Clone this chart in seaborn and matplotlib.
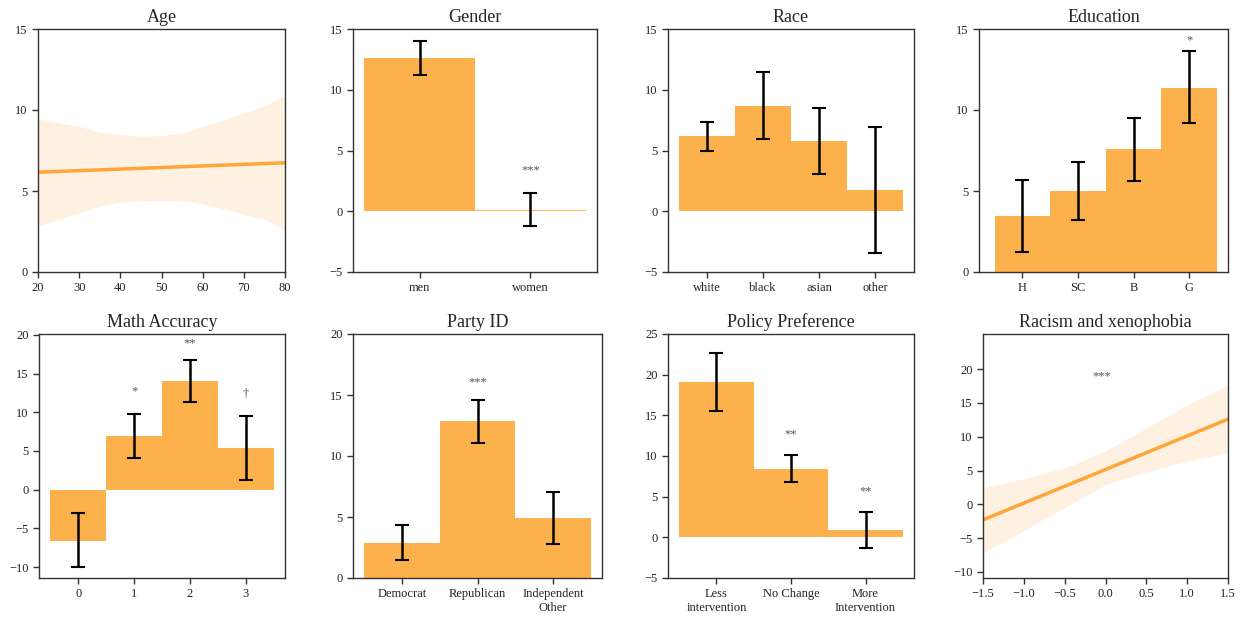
import matplotlib
matplotlib.use('Agg')
import matplotlib.pyplot as plt
import seaborn as sns
import numpy as np

# ---- data ----
age_line_x = [20, 80]
age_line_y = [6.16, 6.74]
age_band_x = [20, 25, 30, 35, 40, 45, 50, 55, 60, 65, 70, 75, 80]
age_band_lo = [2.84, 3.25, 3.66, 4.07, 4.31, 4.40, 4.42, 4.40, 4.19, 3.90, 3.55, 3.25, 2.59]
age_band_hi = [9.47, 9.20, 9.00, 8.63, 8.49, 8.38, 8.42, 8.59, 9.00, 9.37, 9.82, 10.27, 10.90]

gender_cats = ['men', 'women']
gender_vals = [12.65, 0.1]
gender_lo = [11.25, -1.25]
gender_hi = [14.0, 1.5]
gender_sig = ['', '***']

race_cats = ['white', 'black', 'asian', 'other']
race_vals = [6.16, 8.68, 5.81, 1.75]
race_lo = [5.0, 5.95, 3.1, -3.42]
race_hi = [7.34, 11.5, 8.47, 6.9]
race_sig = ['', '', '', '']

edu_cats = ['H', 'SC', 'B', 'G']
edu_vals = [3.45, 4.99, 7.58, 11.38]
edu_lo = [1.25, 3.23, 5.63, 9.18]
edu_hi = [5.65, 6.78, 9.51, 13.62]
edu_sig = ['', '', '', '*']

math_cats = ['0', '1', '2', '3']
math_vals = [-6.57, 6.87, 13.99, 5.41]
math_lo = [-10.0, 4.03, 11.29, 1.29]
math_hi = [-3.05, 9.79, 16.7, 9.53]
math_sig = ['', '*', '**', '†']

party_cats = ['Democrat', 'Republican', 'Independent\nOther']
party_vals = [2.9, 12.86, 4.95]
party_lo = [1.45, 11.08, 2.76]
party_hi = [4.35, 14.61, 7.09]
party_sig = ['', '***', '']

policy_cats = ['Less\nintervention', 'No Change', 'More\nIntervention']
policy_vals = [19.14, 8.38, 0.86]
policy_lo = [15.48, 6.78, -1.27]
policy_hi = [22.71, 10.1, 3.12]
policy_sig = ['', '**', '**']

racism_line_x = [-1.5, 1.5]
racism_line_y = [-2.3, 12.6]
racism_band_x = [-1.5, -1.0, -0.5, -0.25, 0.0, 0.25, 0.5, 0.75, 1.0, 1.25, 1.5]
racism_band_lo = [-7.2, -3.9, -0.5, 1.2, 2.9, 3.9, 4.75, 5.6, 6.4, 7.0, 7.6]
racism_band_hi = [2.45, 3.8, 5.4, 6.6, 7.9, 9.6, 11.3, 13.0, 14.7, 16.2, 17.6]

BAR_COLOR = '#fdb14d'
LINE_COLOR = '#ffa53a'
SIG_COLOR = '#555555'

sns.set_style('ticks')
plt.rcParams['font.family'] = ['Liberation Serif', 'DejaVu Serif']
plt.rcParams['axes.edgecolor'] = '#333333'
plt.rcParams['axes.linewidth'] = 1.0
plt.rcParams['xtick.color'] = '#333333'
plt.rcParams['ytick.color'] = '#333333'
plt.rcParams['xtick.labelcolor'] = '#222222'
plt.rcParams['ytick.labelcolor'] = '#222222'

W, H = 1244, 618
fig = plt.figure(figsize=(W / 100, H / 100), dpi=100)


def add_ax(x0, x1, y0, y1):
    return fig.add_axes([x0 / W, 1 - y1 / H, (x1 - x0) / W, (y1 - y0) / H])


def style(ax, title):
    ax.set_title(title, fontsize=13, pad=5)
    ax.tick_params(labelsize=9, length=4, width=1)
    for s in ax.spines.values():
        s.set_visible(True)
    ax.set_xlabel('')
    ax.set_ylabel('')


def bar_panel(ax, title, cats, vals, lo, hi, sig, ylim, yticks, sig_y, xlim=None):
    sns.barplot(x=cats, y=vals, color=BAR_COLOR, saturation=1, width=1,
                errorbar=None, linewidth=0, ax=ax)
    pos = np.arange(len(cats))
    vals_a = np.array(vals)
    err = [vals_a - np.array(lo), np.array(hi) - vals_a]
    ax.errorbar(pos, vals, yerr=err, fmt='none', ecolor='black',
                elinewidth=1.8, capsize=5, capthick=1.5)
    for p, s, y in zip(pos, sig, sig_y):
        if s:
            ax.text(p, y, s, ha='center', va='center', fontsize=9, color=SIG_COLOR)
    n = len(cats)
    if xlim is None:
        xlim = (-0.5 - 0.05 * n, n - 0.5 + 0.05 * n)
    ax.set_xlim(*xlim)
    ax.set_ylim(*ylim)
    ax.set_yticks(yticks)
    style(ax, title)


def line_panel(ax, title, lx, ly, bx, blo, bhi, xlim, ylim, yticks, xticks, xfmt):
    ax.fill_between(bx, blo, bhi, color=LINE_COLOR, alpha=0.15, linewidth=0)
    sns.lineplot(x=lx, y=ly, color=LINE_COLOR, linewidth=2.5, ax=ax)
    ax.set_xlim(*xlim)
    ax.set_ylim(*ylim)
    ax.set_yticks(yticks)
    ax.set_xticks(xticks)
    ax.set_xticklabels([xfmt(v) for v in xticks])
    style(ax, title)


# top row
ax1 = add_ax(38, 285, 29, 272)
line_panel(ax1, 'Age', age_line_x, age_line_y, age_band_x, age_band_lo, age_band_hi,
           (20, 80), (0, 15), [0, 5, 10, 15], [20, 30, 40, 50, 60, 70, 80], lambda v: f'{v:d}')

ax2 = add_ax(353, 597, 29, 272)
bar_panel(ax2, 'Gender', gender_cats, gender_vals, gender_lo, gender_hi, gender_sig,
          (-5, 15), [-5, 0, 5, 10, 15], [0, 3.4])

ax3 = add_ax(668, 914, 29, 272)
bar_panel(ax3, 'Race', race_cats, race_vals, race_lo, race_hi, race_sig,
          (-5, 15), [-5, 0, 5, 10, 15], [0, 0, 0, 0])

ax4 = add_ax(979, 1228, 29, 272)
bar_panel(ax4, 'Education', edu_cats, edu_vals, edu_lo, edu_hi, edu_sig,
          (0, 15), [0, 5, 10, 15], [0, 0, 0, 14.3], xlim=(-0.78, 3.7))

# bottom row
ax5 = add_ax(39, 285, 334, 578)
bar_panel(ax5, 'Math Accuracy', math_cats, math_vals, math_lo, math_hi, math_sig,
          (-11.4, 20.1), [-10, -5, 0, 5, 10, 15, 20], [0, 12.7, 18.9, 12.4])

ax6 = add_ax(353, 602, 334, 578)
bar_panel(ax6, 'Party ID', party_cats, party_vals, party_lo, party_hi, party_sig,
          (0, 20), [0, 5, 10, 15, 20], [0, 16.0, 0])

ax7 = add_ax(668, 914, 334, 578)
bar_panel(ax7, 'Policy Preference', policy_cats, policy_vals, policy_lo, policy_hi, policy_sig,
          (-5, 25), [-5, 0, 5, 10, 15, 20, 25], [0, 12.7, 5.6])

ax8 = add_ax(983, 1228, 334, 578)
line_panel(ax8, 'Racism and xenophobia', racism_line_x, racism_line_y, racism_band_x,
           racism_band_lo, racism_band_hi, (-1.5, 1.5), (-10.9, 25.2),
           [-10, -5, 0, 5, 10, 15, 20], [-1.5, -1.0, -0.5, 0.0, 0.5, 1.0, 1.5],
           lambda v: f'{v:.1f}'.replace('-', '\u2212'))
ax8.text(-0.05, 18.9, '***', ha='center', va='center', fontsize=9, color=SIG_COLOR)

fig.savefig('out.png', dpi=100)
